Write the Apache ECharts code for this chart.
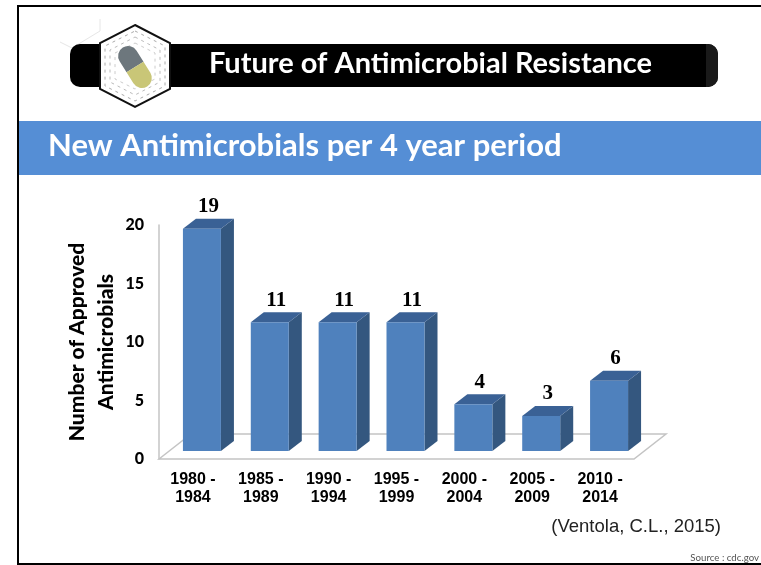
<!DOCTYPE html>
<html>
<head>
<meta charset="utf-8">
<title>New Antimicrobials per 4 year period</title>
<script src="https://cdn.jsdelivr.net/npm/echarts@6/dist/echarts.min.js"></script>
<style>
  html, body { margin: 0; padding: 0; background: #fff; }
  #chart { width: 761px; height: 565px; }
</style>
</head>
<body>
<div id="chart"></div>
<script>
const categories = ['1980 -\n1984', '1985 -\n1989', '1990 -\n1994', '1995 -\n1999', '2000 -\n2004', '2005 -\n2009', '2010 -\n2014'];
const approvedCounts = [19, 11, 11, 11, 4, 3, 6];
const headerTitle = 'Future of Antimicrobial Resistance';
const slideTitle = 'New Antimicrobials per 4 year period';
const yAxisTitle = 'Number of Approved\nAntimicrobials';
const citation = '(Ventola, C.L., 2015)';
const sourceNote = 'Source : cdc.gov';

const myChart = echarts.init(document.getElementById('chart'));

// fake 3D: the bars stand a bit behind the axis plane
const barShiftX = 9, barShiftY = -8;
const depthX = 13, depthY = -10;
const barWidth = 38;

function renderBar(params, api) {
  const base = api.coord([api.value(0), 0]);
  const top = api.coord([api.value(0), api.value(1)]);
  const x0 = base[0] + barShiftX - barWidth / 2;
  const x1 = x0 + barWidth;
  const y0 = base[1] + barShiftY;
  const y1 = top[1] + barShiftY;
  return {
    type: 'group',
    children: [
      { type: 'polygon', shape: { points: [[x1, y0], [x1 + depthX, y0 + depthY], [x1 + depthX, y1 + depthY], [x1, y1]] },
        style: { fill: '#34577f' } },
      { type: 'polygon', shape: { points: [[x0, y1], [x0 + depthX, y1 + depthY], [x1 + depthX, y1 + depthY], [x1, y1]] },
        style: { fill: '#3a6195' } },
      { type: 'rect', shape: { x: x0, y: y1, width: barWidth, height: y0 - y1 },
        style: { fill: '#4f81bd' } },
      { type: 'text', style: {
          x: (x0 + x1 + depthX) / 2, y: y1 + depthY - 12,
          text: String(api.value(1)), align: 'center', verticalAlign: 'middle',
          fontFamily: '"Liberation Serif"', fontWeight: 'bold', fontSize: 21, fill: '#000' } }
    ]
  };
}

// floor of the plot, built from the grid rectangle
function renderFloor(params) {
  const c = params.coordSys;
  const b = c.y + c.height;
  const r = c.x + c.width;
  return {
    type: 'polygon',
    shape: { points: [[c.x, b], [c.x + 32, b - 25], [r + 32, b - 25], [r, b]] },
    style: { fill: '#fff', stroke: '#c4c4c4', lineWidth: 1.5 }
  };
}

// little hexagon helper for the logo
function hexPoints(cx, cy, w, h, shoulder) {
  return [[cx, cy - h / 2], [cx + w / 2, cy - shoulder], [cx + w / 2, cy + shoulder],
          [cx, cy + h / 2], [cx - w / 2, cy + shoulder], [cx - w / 2, cy - shoulder]];
}

let options = {
  backgroundColor: '#fff',
  animation: false,
  grid: { left: 159, top: 225, width: 475, height: 234 },
  xAxis: {
    type: 'category',
    data: categories,
    axisLine: { show: false },
    axisTick: { show: false },
    axisLabel: { interval: 0, margin: 12, lineHeight: 18, color: '#000',
      fontFamily: '"Liberation Sans"', fontWeight: 'bold', fontSize: 16 }
  },
  yAxis: {
    type: 'value',
    min: 0, max: 20, interval: 5,
    name: yAxisTitle,
    nameLocation: 'middle',
    nameRotate: 90,
    nameGap: 38,
    nameMoveOverlap: false,
    nameTextStyle: { color: '#000', fontFamily: 'Lato', fontWeight: 900, fontSize: 21, lineHeight: 29 },
    axisLine: { show: true, lineStyle: { color: '#c4c4c4', width: 1.5 } },
    axisTick: { show: false },
    splitLine: { show: false },
    axisLabel: { margin: 15, color: '#000', fontFamily: 'Lato', fontWeight: 900, fontSize: 16 }
  },
  series: [
    { type: 'custom', renderItem: renderFloor, data: [0], silent: true, z: 1 },
    { type: 'custom', renderItem: renderBar, encode: { x: 0, y: 1 }, z: 2,
      data: approvedCounts.map((v, i) => [i, v]) }
  ],
  graphic: [
    // slide frame
    { type: 'rect', shape: { x: 17, y: 5, width: 744, height: 2 }, style: { fill: '#000' } },
    { type: 'rect', shape: { x: 17, y: 5, width: 2, height: 560 }, style: { fill: '#000' } },
    { type: 'rect', shape: { x: 17, y: 563, width: 744, height: 2 }, style: { fill: '#000' } },
    // header band
    { type: 'polyline', shape: { points: [[100, 19], [100, 31], [72, 48], [60, 42]] },
      style: { fill: null, stroke: '#e6e6e6', lineWidth: 1 } },
    { type: 'rect', shape: { x: 70, y: 44, width: 648, height: 43, r: 10 }, style: { fill: '#000' } },
    { type: 'rect', shape: { x: 706, y: 44, width: 12, height: 43, r: [0, 10, 10, 0] }, style: { fill: '#1a1a1a' } },
    { type: 'polygon', shape: { points: hexPoints(135, 66, 70, 82, 23) },
      style: { fill: '#fff', stroke: '#111', lineWidth: 2 } },
    { type: 'polygon', shape: { points: hexPoints(135, 66, 60, 70, 20) },
      style: { fill: null, stroke: '#aaa', lineWidth: 1, lineDash: [3, 4] } },
    { type: 'polygon', shape: { points: hexPoints(135, 66, 50, 58, 16) },
      style: { fill: null, stroke: '#bbb', lineWidth: 1, lineDash: [3, 4] } },
    { type: 'polygon', shape: { points: hexPoints(135, 66, 40, 46, 13) },
      style: { fill: null, stroke: '#ccc', lineWidth: 1, lineDash: [3, 4] } },
    { type: 'group', x: 135, y: 67, rotation: -Math.PI * 58 / 180, children: [
      { type: 'rect', shape: { x: -23, y: -10, width: 23, height: 20, r: [10, 0, 0, 10] }, style: { fill: '#6d777d' } },
      { type: 'rect', shape: { x: 0, y: -10, width: 23, height: 20, r: [0, 10, 10, 0] }, style: { fill: '#c9c677' } }
    ] },
    { type: 'text', style: { x: 430.5, y: 64, text: headerTitle, align: 'center', verticalAlign: 'middle',
        fontFamily: 'Lato', fontWeight: 'bold', fontSize: 29, fill: '#fff' } },
    // blue title bar
    { type: 'rect', shape: { x: 19, y: 121, width: 742, height: 54 }, style: { fill: '#558ed5' } },
    { type: 'text', style: { x: 48, y: 146, text: slideTitle, align: 'left', verticalAlign: 'middle',
        fontFamily: 'Lato', fontWeight: 'bold', fontSize: 31, fill: '#fff' } },
    // notes
    { type: 'text', style: { x: 721, y: 527, text: citation, align: 'right', verticalAlign: 'middle',
        fontFamily: '"Liberation Sans"', fontSize: 18.5, fill: '#222' } },
    { type: 'text', style: { x: 759, y: 558, text: sourceNote, align: 'right', verticalAlign: 'middle',
        fontFamily: 'Lato', fontSize: 9.7, fill: '#555' } }
  ]
};
myChart.setOption(options);
</script>
</body>
</html>
